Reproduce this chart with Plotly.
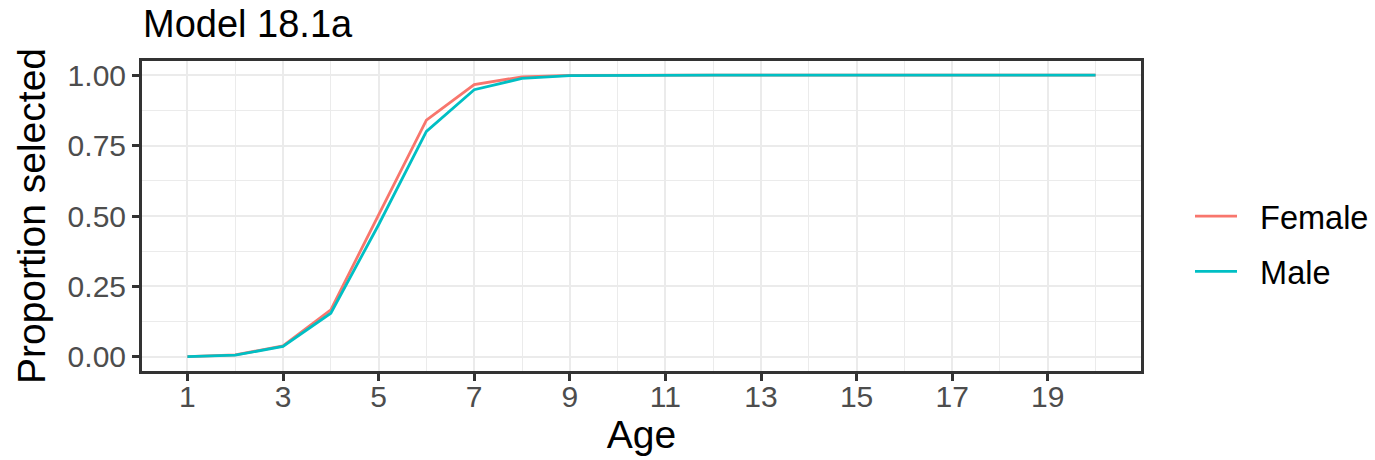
import plotly.graph_objects as go

ages = list(range(1, 21))
female = [0.001, 0.007, 0.039, 0.167, 0.504, 0.840, 0.966, 0.994, 0.999, 1.0,
          1.0, 1.0, 1.0, 1.0, 1.0, 1.0, 1.0, 1.0, 1.0, 1.0]
male = [0.001, 0.006, 0.037, 0.155, 0.469, 0.800, 0.948, 0.988, 0.998, 0.9995,
        1.0, 1.0, 1.0, 1.0, 1.0, 1.0, 1.0, 1.0, 1.0, 1.0]
series_names = ["Female", "Male"]
x_ticks = [1, 3, 5, 7, 9, 11, 13, 15, 17, 19]
x_minor = [2, 4, 6, 8, 10, 12, 14, 16, 18, 20]
y_ticks = [0.0, 0.25, 0.5, 0.75, 1.0]
y_tick_labels = ["0.00", "0.25", "0.50", "0.75", "1.00"]
y_minor = [0.125, 0.375, 0.625, 0.875]

FONT = "Liberation Sans, Arial, sans-serif"
L, R, T, B = 142, 234, 61, 89
PW, PH = 1375 - L - R, 460 - T - B
PAD = "\u00a0\u00a0"  # gap between legend key and label

fig = go.Figure()
fig.add_trace(go.Scatter(x=ages, y=female, mode="lines", name=PAD + series_names[0],
                         legendgroup="f",
                         line=dict(color="#F8766D", width=2.8)))
fig.add_trace(go.Scatter(x=ages, y=male, mode="lines", name=PAD + series_names[1],
                         legendgroup="m",
                         line=dict(color="#00BFC4", width=2.8)))

axis_common = dict(
    showline=True, mirror=True, linecolor="#333333", linewidth=3,
    ticks="outside", ticklen=7, tickwidth=2.5, tickcolor="#333333",
    showgrid=True, gridcolor="#EBEBEB", gridwidth=2,
    zeroline=False, automargin=False,
    tickfont=dict(family=FONT, size=30, color="#4D4D4D"),
)

fig.update_layout(
    width=1375, height=460,
    margin=dict(l=L, r=R, t=T, b=B, autoexpand=False),
    paper_bgcolor="white", plot_bgcolor="white",
    font=dict(family=FONT, color="black"),
    title=dict(text="Model 18.1a", x=143 / 1375, xref="container", xanchor="left",
               y=1 - 24 / 460, yref="container", yanchor="middle",
               font=dict(family=FONT, size=38, color="black")),
    xaxis=dict(range=[0.05, 20.95], tickvals=x_ticks,
               minor=dict(tickvals=x_minor, showgrid=True, gridcolor="#EBEBEB",
                          gridwidth=1, ticks=""),
               ticklabelstandoff=-10,
               title=dict(text="Age", font=dict(family=FONT, size=39, color="black"),
                          standoff=6),
               **axis_common),
    yaxis=dict(range=[-0.05, 1.05], tickvals=y_ticks, ticktext=y_tick_labels,
               minor=dict(tickvals=y_minor, showgrid=True, gridcolor="#EBEBEB",
                          gridwidth=1, ticks=""),
               title=dict(text="Proportion selected",
                          font=dict(family=FONT, size=39, color="black"),
                          standoff=10),
               **axis_common),
    legend=dict(x=(1190 - L) / PW, xanchor="left",
                y=(460 - B - 244) / PH, yanchor="middle",
                font=dict(family=FONT, size=32.5, color="black"),
                tracegroupgap=10, bgcolor="rgba(0,0,0,0)", itemwidth=42),
    showlegend=True,
)

fig.write_html("out.html")
